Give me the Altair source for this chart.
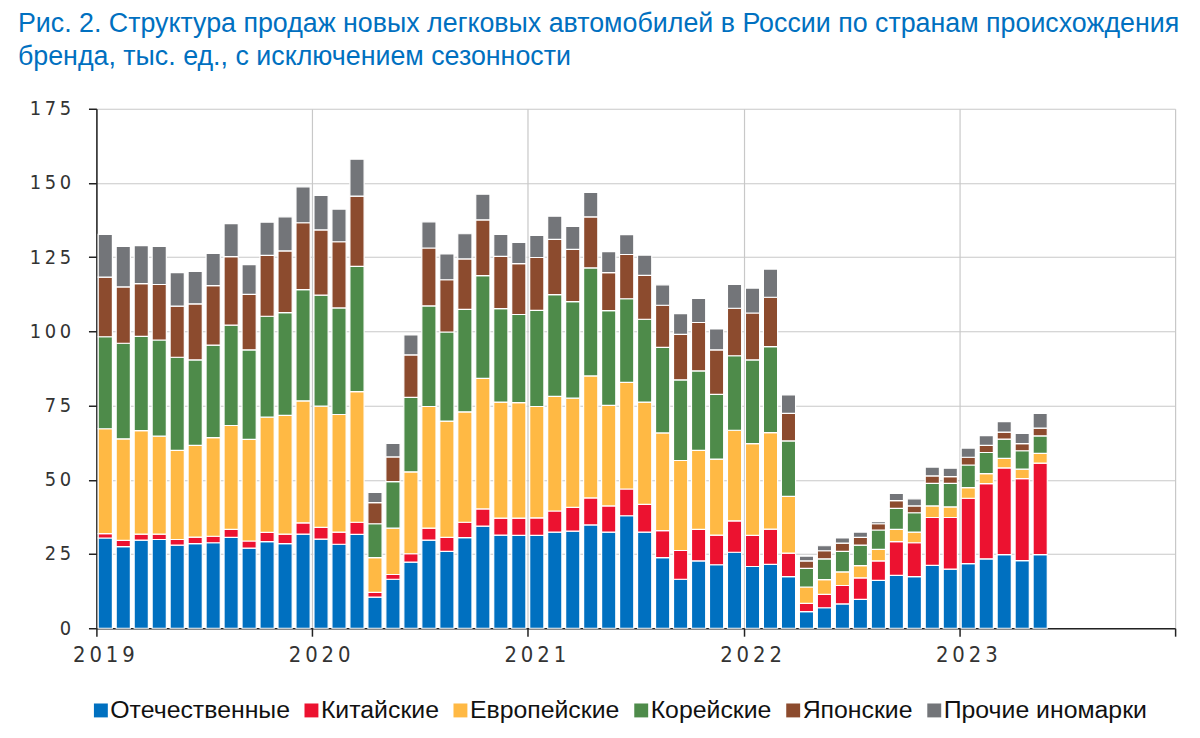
import altair as alt
import pandas as pd

# ---- data (thousand units, seasonally adjusted) ----
start_month = "2019-01-01"
years = ["2019", "2020", "2021", "2022", "2023", "2024"]
categories = ["Отечественные", "Китайские", "Европейские", "Корейские", "Японские", "Прочие иномарки"]
colors = ["#0070C0", "#EC1230", "#FFB944", "#4E8B4A", "#8C4B2E", "#737579"]

domestic = [30.4, 27.5, 29.7, 29.9, 28.0, 28.5, 28.8, 30.6, 27.0, 29.2, 28.5, 31.7,
            30.0, 28.3, 31.6, 10.5, 16.5, 22.3, 29.7, 25.9, 30.5, 34.4, 31.4, 31.3,
            31.3, 32.4, 32.7, 34.8, 32.4, 37.9, 32.4, 23.8, 16.5, 22.7, 21.4, 25.6,
            20.8, 21.5, 17.4, 5.6, 6.9, 8.2, 9.7, 16.1, 17.8, 17.4, 21.2, 19.9,
            21.8, 23.4, 24.8, 22.8, 24.8]
chinese = [1.5, 2.1, 2.0, 1.8, 1.9, 2.2, 2.2, 2.7, 2.4, 3.1, 3.2, 3.8,
           4.0, 4.1, 4.1, 1.6, 1.6, 2.8, 4.0, 4.7, 5.2, 5.8, 5.7, 5.8,
           5.9, 7.1, 8.0, 9.1, 8.8, 9.0, 9.3, 9.1, 9.7, 10.6, 10.0, 10.6,
           10.5, 11.9, 7.9, 2.8, 4.5, 6.2, 7.3, 6.6, 11.4, 11.4, 16.1, 17.4,
           22.0, 25.3, 29.2, 27.6, 30.8]
european = [35.3, 34.2, 34.9, 33.0, 30.0, 30.9, 33.2, 35.0, 34.2, 38.8, 40.0, 41.1,
            40.8, 39.6, 44.0, 11.7, 15.6, 27.6, 41.0, 39.2, 37.2, 44.0, 39.1, 38.9,
            37.5, 38.6, 36.8, 41.1, 33.9, 35.9, 34.5, 32.9, 30.3, 26.6, 25.6, 30.5,
            30.9, 32.5, 19.1, 5.5, 5.0, 4.6, 4.1, 3.9, 4.1, 3.6, 3.9, 3.6,
            3.6, 3.4, 3.2, 3.2, 3.3]
korean = [31.0, 32.2, 31.7, 32.4, 31.4, 28.8, 31.2, 33.8, 30.2, 34.0, 34.6, 37.5,
          37.4, 35.9, 42.2, 11.4, 15.7, 25.1, 33.9, 30.0, 34.5, 34.6, 31.5, 29.7,
          32.4, 34.3, 32.5, 36.4, 31.9, 28.2, 27.9, 28.8, 27.2, 26.8, 21.8, 25.1,
          28.2, 29.0, 18.7, 6.3, 7.0, 6.9, 6.9, 6.5, 7.1, 6.5, 7.6, 7.9,
          7.6, 7.1, 6.5, 6.2, 5.9]
japanese = [20.1, 19.0, 17.8, 18.7, 17.2, 18.9, 20.0, 23.1, 18.7, 20.5, 20.8, 22.5,
            22.0, 22.3, 23.7, 7.1, 8.3, 14.3, 19.5, 17.6, 17.0, 18.8, 17.6, 17.1,
            17.8, 18.6, 17.6, 17.2, 12.8, 14.9, 14.8, 14.2, 15.3, 16.3, 15.0, 16.0,
            15.8, 16.6, 9.3, 2.5, 2.7, 2.8, 2.6, 2.1, 2.6, 2.3, 2.5, 2.3,
            2.6, 2.4, 2.4, 2.4, 2.6]
other = [14.4, 13.6, 12.8, 12.8, 11.3, 10.9, 10.9, 11.1, 10.0, 11.2, 11.5, 12.1,
         11.6, 11.0, 12.4, 3.5, 4.6, 6.7, 8.8, 8.7, 8.5, 8.6, 7.4, 7.2,
         7.4, 7.8, 7.8, 8.2, 7.1, 6.7, 6.8, 6.9, 7.0, 8.1, 7.0, 8.0,
         8.4, 9.5, 6.2, 1.6, 1.7, 1.7, 1.8, 0.7, 2.4, 2.4, 3.0, 2.8,
         3.1, 3.3, 3.5, 3.4, 5.0]

title_lines = [
    "Рис. 2. Структура продаж новых легковых автомобилей в России по странам происхождения",
    "бренда, тыс. ед., с исключением сезонности",
]

series = [domestic, chinese, european, korean, japanese, other]
months = pd.date_range(start_month, periods=len(domestic), freq="MS")

rows = []
for k, (name, vals) in enumerate(zip(categories, series)):
    for d, v in zip(months, vals):
        rows.append({"m": (d.year - 2019) * 12 + d.month - 1, "cat": name, "ord": k, "val": v})
df = pd.DataFrame(rows)

SP = "\u2009"  # thin space: letter-spaced axis digits as in the reference
year_ticks = [12 * k for k in range(len(years))]
label_expr = " : ".join(
    f"datum.value == {12 * k} ? '{SP.join(y)}'" for k, y in enumerate(years[:-1])
) + " : ''"

axis_font = "Liberation Sans Narrow, DejaVu Sans Condensed, Roboto Condensed, Liberation Sans, sans-serif"
main_font = "Liberation Sans, Arial, sans-serif"

chart = (
    alt.Chart(df)
    .transform_stack(stack="val", groupby=["m"], as_=["y0", "y1"], sort=[alt.SortField("ord")])
    .transform_calculate(xa="datum.m + 0.1", xb="datum.m + 0.89")
    .mark_bar(stroke="white", strokeWidth=1.2)
    .encode(
        x=alt.X("xa:Q", scale=alt.Scale(domain=[0, 60], nice=False, zero=False),
                axis=alt.Axis(values=year_ticks, labelExpr=label_expr, title=None,
                              grid=True, gridColor="#C8C8C8", gridWidth=1.2,
                              domainColor="#222", domainWidth=1.5, tickColor="#222",
                              tickWidth=1.5, tickSize=8, labelFont=axis_font,
                              labelFontSize=22, labelColor="#333", labelPadding=8,
                              labelOffset=7, labelAlign="center")),
        x2="xb:Q",
        y=alt.Y("y0:Q", scale=alt.Scale(domain=[0, 175], nice=False),
                axis=alt.Axis(values=list(range(0, 176, 25)), title=None,
                              labelExpr=f"join(split(datum.label, ''), '{SP}')",
                              grid=True, gridColor="#C8C8C8", gridWidth=1.2,
                              domainColor="#222", domainWidth=1.5, tickColor="#222",
                              tickWidth=1.5, tickSize=8, labelFont=axis_font,
                              labelFontSize=20, labelColor="#333", labelPadding=18)),
        y2="y1:Q",
        color=alt.Color("cat:N", scale=alt.Scale(domain=categories, range=colors),
                        legend=alt.Legend(orient="none", legendX=-8, legendY=593,
                                          direction="horizontal", title=None,
                                          symbolType="square", symbolSize=196,
                                          symbolStrokeWidth=0, labelFont=main_font,
                                          labelFontSize=25, labelColor="#111",
                                          labelLimit=600,
                                          labelOffset=alt.ExprRef(expr="-3"),
                                          columnPadding=9)),
        order=alt.Order("ord:Q"),
    )
    .properties(
        width=1086, height=523,
        title=alt.TitleParams(
            title_lines,
            anchor="start", frame="group", dx=-79, offset=28, fontSize=27,
            lineHeight=33.5, font=main_font, fontWeight="normal", color="#0070C0"),
        autosize=alt.AutoSizeParams(type="none"),
        padding={"left": 89, "top": 99, "right": 17, "bottom": 100},
        background="white",
    )
    .configure_view(stroke=None)
)

chart.save("out.html", embed_options={"renderer": "svg", "actions": False})
